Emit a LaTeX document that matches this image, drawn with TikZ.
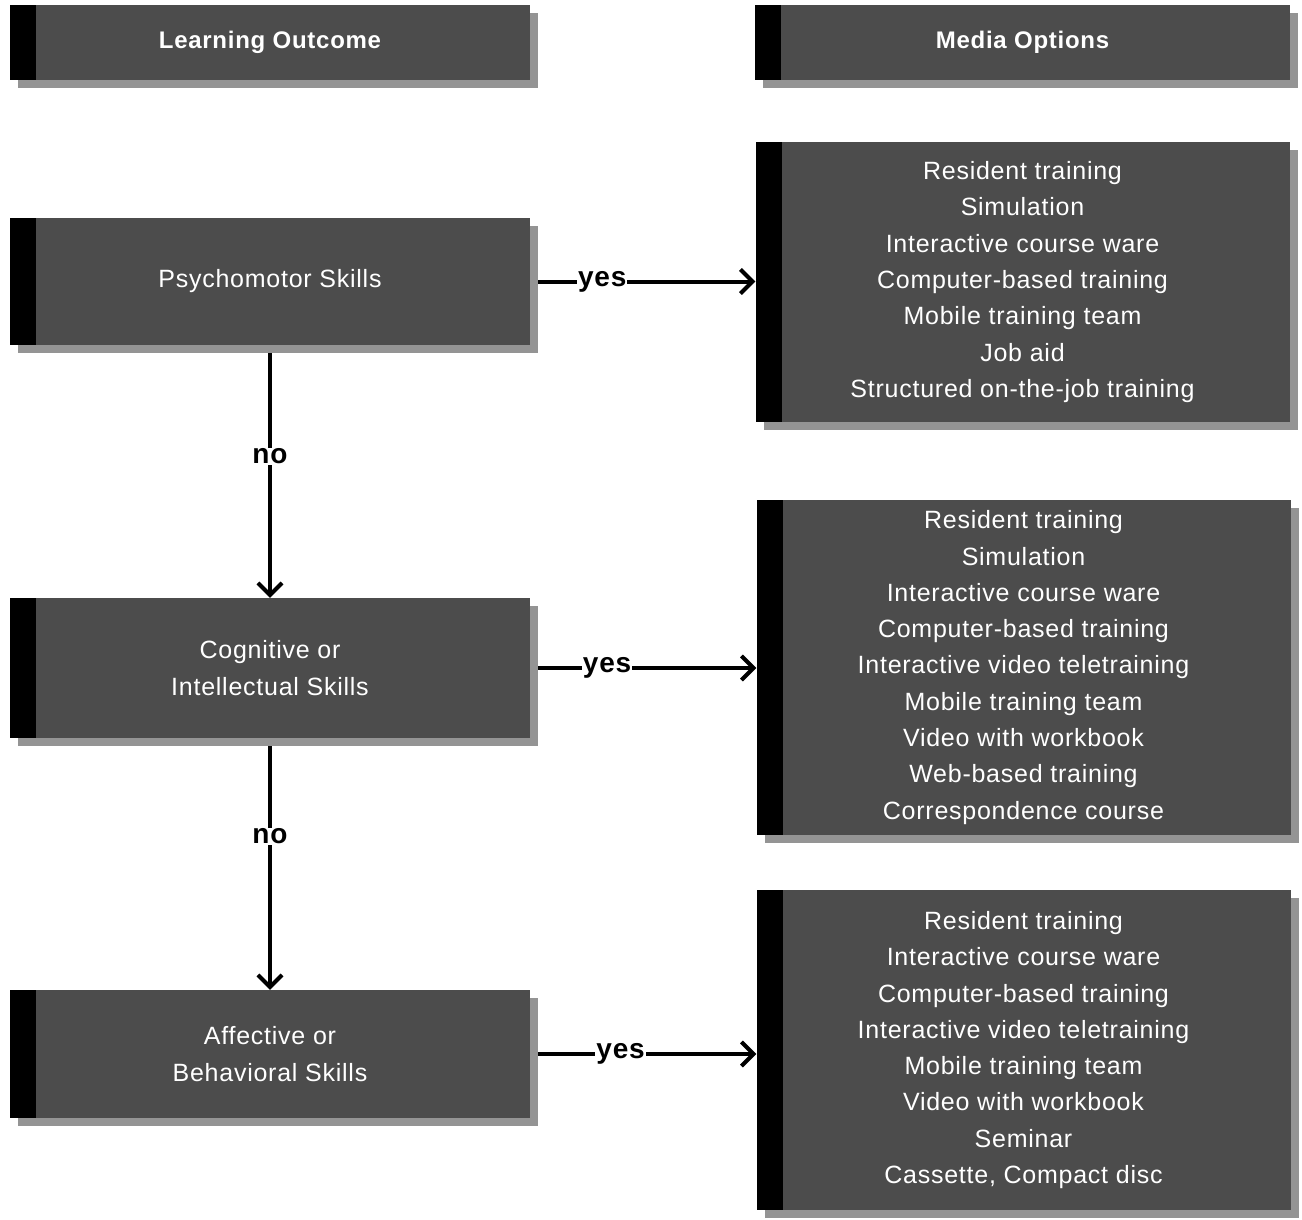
\documentclass[tikz,border=0pt]{standalone}
\usepackage{fontspec}
\setmainfont{Liberation Sans}[LetterSpace=3]
\usetikzlibrary{arrows.meta,shadows}

\tikzset{darkbox/.style={fill=black!70, text=white, align=center, inner sep=0pt,
    drop shadow={shadow xshift=8pt, shadow yshift=-8pt, fill=black!42, opacity=1},
    path picture={\fill[black] (path picture bounding box.south west)
      rectangle ([xshift=26pt]path picture bounding box.north west);}},
  headbox/.style={darkbox, minimum height=75pt, font=\bfseries\fontsize{24}{28}\selectfont},
  skillbox/.style={darkbox, minimum width=520pt, font=\fontsize{25}{36.3}\selectfont},
  mediabox/.style={darkbox, minimum width=534pt, font=\fontsize{25}{36.3}\selectfont},
  flow/.style={line width=4pt, shorten <=8pt, -{Straight Barb[length=12pt,width=24pt]}},
  answer/.style={fill=white, inner sep=1pt, font=\bfseries\fontsize{28}{28}\selectfont}}

\begin{document}
\begin{tikzpicture}[x=1pt,y=-1pt]

\useasboundingbox (0,0) rectangle (1302,1219);

% column heads
\node[headbox, minimum width=520pt] (outcome) at (270,42.5) {Learning Outcome};
\node[headbox, minimum width=535pt] (options) at (1022.5,42.5) {Media Options};

% the three skills
\node[skillbox, minimum height=127pt] (psycho) at (270,281.5) {Psychomotor Skills};
\node[skillbox, minimum height=140pt] (cogn) at (270,668) {Cognitive or\\Intellectual Skills};
\node[skillbox, minimum height=128pt] (affect) at (270,1054) {Affective or\\Behavioral Skills};

% media for each
\node[mediabox, minimum height=280pt] (media1) at (1022.5,282) {Resident training\\Simulation\\
  Interactive course ware\\Computer-based training\\Mobile training team\\Job aid\\
  Structured on-the-job training};
\node[mediabox, minimum height=335pt] (media2) at (1023.5,667.5) {Resident training\\Simulation\\
  Interactive course ware\\Computer-based training\\Interactive video teletraining\\
  Mobile training team\\Video with workbook\\Web-based training\\Correspondence course};
\node[mediabox, minimum height=320pt] (media3) at (1023.5,1050) {Resident training\\
  Interactive course ware\\Computer-based training\\Interactive video teletraining\\
  Mobile training team\\Video with workbook\\Seminar\\Cassette, Compact disc};

% yes / no arrows
\draw[flow] (psycho) -- (media1.west |- psycho) node[answer, pos=0.32] {yes};
\draw[flow] (cogn) -- (media2.west |- cogn) node[answer, pos=0.34] {yes};
\draw[flow] (affect) -- (media3.west |- affect) node[answer, pos=0.4] {yes};
\draw[flow] (psycho) -- (cogn) node[answer, pos=0.44] {no};
\draw[flow] (cogn) -- (affect) node[answer, pos=0.39] {no};

\end{tikzpicture}
\end{document}
